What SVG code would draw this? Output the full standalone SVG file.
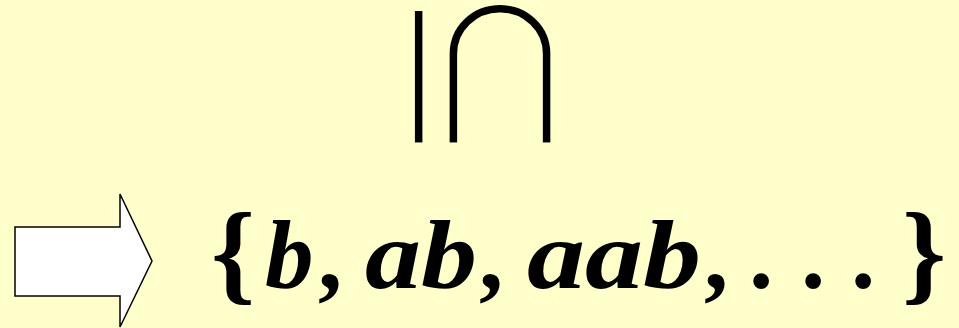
<svg xmlns="http://www.w3.org/2000/svg" width="959" height="328" viewBox="0 0 959 328">
<style>
.m{font-family:"Liberation Serif","DejaVu Serif",serif;font-size:97px;font-weight:bold;fill:#000}
.i{font-style:italic}
.br{font-size:112px}
</style>
<rect x="0" y="0" width="959" height="328" fill="#FFFFCC"/>
<g id="subset">
<text x="0" y="0" text-anchor="start" dominant-baseline="central" font-family="'DejaVu Sans',sans-serif" font-size="230" fill="#000" stroke="#FFFFCC" stroke-width="9.5" stroke-linejoin="round" transform="translate(492,-21) rotate(90) scale(1,1.03)">⊆</text>
</g>
<g id="arrow">
<polygon points="15,227 120,227 120,194 152,261 120,327 120,296 15,296" fill="#FFFFFF" stroke="#000" stroke-width="1.5"/>
</g>
<g id="set">
<text class="m br" x="211" y="290">{</text>
<text class="m i" x="265" y="288">b</text>
<text class="m" x="318" y="288">,</text>
<text class="m i" x="365" y="288" textLength="112" lengthAdjust="spacingAndGlyphs">ab</text>
<text class="m" x="479" y="288">,</text>
<text class="m i" x="527" y="288" textLength="174" lengthAdjust="spacingAndGlyphs">aab</text>
<text class="m" x="704" y="288">,</text>
<text class="m" x="749" y="288">.</text>
<text class="m" x="801" y="288">.</text>
<text class="m" x="851" y="288">.</text>
<text class="m br" x="902" y="290">}</text>
</g>
</svg>
